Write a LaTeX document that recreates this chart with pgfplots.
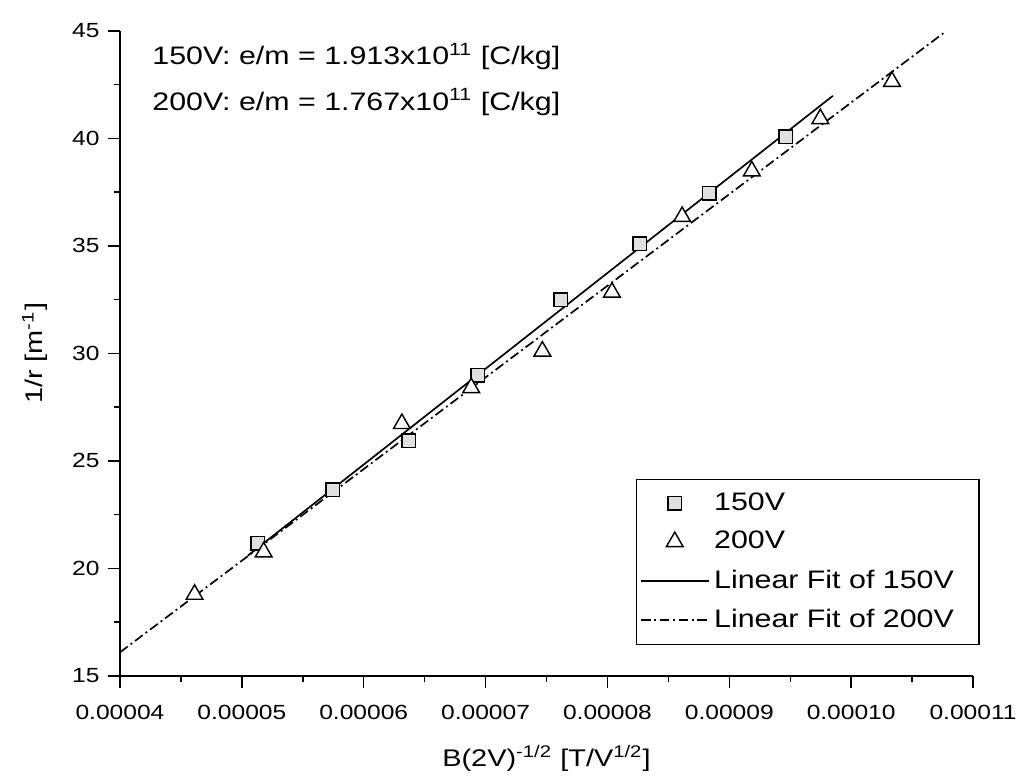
\documentclass[border=0pt]{standalone}
\usepackage{fontspec}
\setmainfont{Liberation Sans}[FakeStretch=1.2]
\usepackage{pgfplots}
\pgfplotsset{compat=1.18}
\pgfplotsset{
  markleg/.style={legend image code/.code={\draw[mark repeat=2,mark phase=2,##1] plot coordinates {(0pt,0pt) (14pt,0pt) (28pt,0pt)};}},
  lineleg/.style={legend image code/.code={\draw[##1] (0pt,0pt) -- (28pt,0pt);}},
}

\begin{document}
\begin{tikzpicture}
\begin{axis}[
    scale only axis,
    width=354pt, height=267.7pt,
    xmin=0.00004, xmax=0.00011,
    ymin=15, ymax=45,
    axis x line=bottom, axis y line=left,
    axis line style={-, line width=0.8pt},
    tick align=outside,
    major tick length=5pt, minor tick length=2.5pt,
    every tick/.style={black, line width=0.6pt},
    xtick={0.00004,0.00005,0.00006,0.00007,0.00008,0.00009,0.00010,0.00011},
    xticklabels={0.00004,0.00005,0.00006,0.00007,0.00008,0.00009,0.00010,0.00011},
    scaled x ticks=false,
    ytick={15,20,25,30,35,40,45},
    minor x tick num=1, minor y tick num=1,
    /pgf/number format/assume math mode=true,
    tick label style={font=\fontsize{8.5}{10}\selectfont},
    xticklabel style={yshift=-3.5pt},
    xlabel={B(2V)\textsuperscript{-1/2} [T/V\textsuperscript{1/2}]},
    ylabel={1/r [m\textsuperscript{-1}]},
    every axis x label/.style={at={(axis description cs:0.5,-0.128)}, anchor=center, font=\fontsize{10}{12}\selectfont},
    every axis y label/.style={at={(axis description cs:-0.1,0.5)}, anchor=center, rotate=90, font=\fontsize{10}{12}\selectfont},
    legend cell align=left,
    legend style={at={(axis description cs:1.008,0.048)}, anchor=south east,
        draw=black, line width=0.6pt, font=\fontsize{10.5}{12}\selectfont,
        row sep=3.2pt, inner xsep=1.5pt, inner ysep=3.5pt},
  ]
  % 150V
  \addplot[only marks, mark=square*, mark size=2.8pt,
    mark options={fill=black!12, draw=black, line width=0.6pt}, markleg]
    coordinates {
      (0.00005129,21.17) (0.00005747,23.66) (0.00006369,25.94) (0.00006937,28.98)
      (0.00007617,32.49) (0.00008265,35.09) (0.00008835,37.44) (0.00009463,40.08)
    };
  \addlegendentry{150V}
  % 200V
  \addplot[only marks, mark=triangle*, mark size=4pt,
    mark options={fill=white, draw=black, line width=0.6pt}, markleg]
    coordinates {
      (0.00004612,18.79) (0.00005179,20.76) (0.00006313,26.73) (0.00006882,28.40)
      (0.00007466,30.10) (0.00008037,32.84) (0.00008613,36.36) (0.00009185,38.48)
      (0.00009747,40.91) (0.00010335,42.64)
    };
  \addlegendentry{200V}
  % linear fits
  \addplot[black, line width=0.7pt, lineleg]
    coordinates {(0.0000505,20.60) (0.0000985,41.98)};
  \addlegendentry{Linear Fit of 150V\hspace{7pt}\null}
  \addplot[black, line width=0.7pt, dash pattern=on 4pt off 1.5pt on 0.8pt off 1.5pt, lineleg]
    coordinates {(0.00004,16.10) (0.0001078,44.99)};
  \addlegendentry{Linear Fit of 200V\hspace{7pt}\null}

  \node[anchor=west, font=\fontsize{10.5}{12}\selectfont] at (axis description cs:0.028,0.96)
    {150V: e/m = 1.913x10\textsuperscript{11} [C/kg]};
  \node[anchor=west, font=\fontsize{10.5}{12}\selectfont] at (axis description cs:0.028,0.89)
    {200V: e/m = 1.767x10\textsuperscript{11} [C/kg]};
\end{axis}
\pgfresetboundingbox
\path (-49.8pt,-41.5pt) rectangle (373.9pt,280.5pt);
\end{tikzpicture}
\end{document}
